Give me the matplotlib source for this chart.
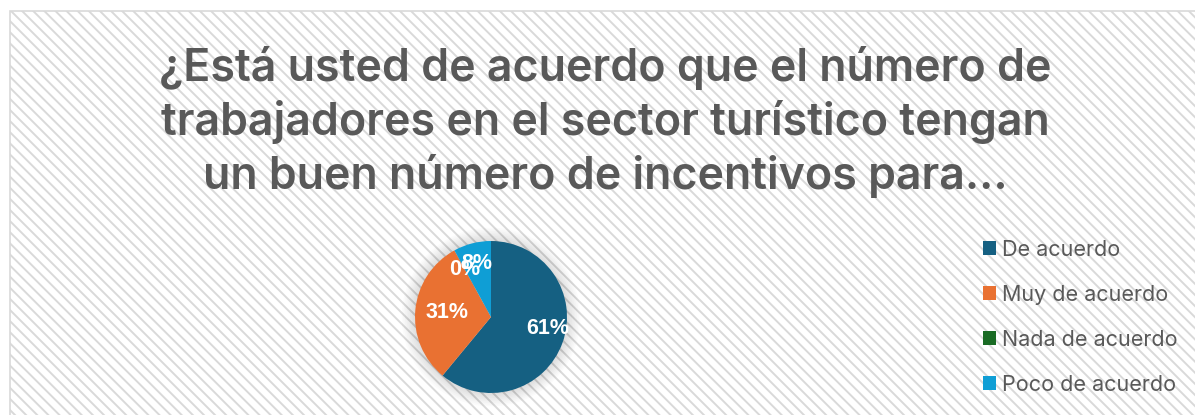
import numpy as np
import matplotlib.pyplot as plt
from matplotlib.patches import Rectangle, Patch, Circle

# Survey answers
categories = ['De acuerdo', 'Muy de acuerdo', 'Nada de acuerdo', 'Poco de acuerdo']
values = [61, 31, 0, 8]
colors = ['#156082', '#E97132', '#196B24', '#0F9ED5']
# radial position of each percentage label (fraction of radius)
label_dist = [0.76, 0.58, 0.72, 0.73]

title = ('¿Está usted de acuerdo que el número de\n'
         'trabajadores en el sector turístico tengan\n'
         'un buen número de incentivos para...')

plt.rcParams['hatch.linewidth'] = 1.4
plt.rcParams['hatch.color'] = '#f0f0f0'

fig = plt.figure(figsize=(11.95, 4.15), dpi=100)
W, H = 1195, 415

# chart area with diagonal stripes
bg = Rectangle((10 / W, -0.05), 1.1, 1 - 11 / H + 0.05, transform=fig.transFigure,
               facecolor='white', edgecolor='#d9d9d9', hatch='\\\\\\', linewidth=1.2, zorder=-5)
fig.patches.append(bg)

fig.text(605 / W, 1 - 122 / H, title, ha='center', va='center', fontsize=32.2,
         color='#595959', fontweight='semibold', family='Inter', linespacing=1.3)

# pie
cx, cy, r = 491, 317, 76
R = r * 1.2
ax = fig.add_axes([(cx - R) / W, (H - cy - R) / H, 2 * R / W, 2 * R / H])
ax.set_zorder(2)
for i in range(8):
    ax.add_patch(Circle((0, 0), 1.0 + 0.022 * (i + 1), color='black', alpha=0.017, lw=0, zorder=0))
wedges, texts, autotexts = ax.pie(values, colors=colors, startangle=90, counterclock=False,
                                  autopct='%1.0f%%', pctdistance=0.72, radius=1,
                                  wedgeprops=dict(linewidth=0))
for w, t, d in zip(wedges, autotexts, label_dist):
    ang = np.deg2rad((w.theta1 + w.theta2) / 2)
    if w.theta2 - w.theta1 > 200:
        ang = np.deg2rad(-11)
    t.set_position((d * np.cos(ang), d * np.sin(ang)))
    t.set_color('white')
    t.set_fontsize(15.5)
    t.set_fontweight('bold')
    t.set_family('Liberation Sans')
ax.set_xlim(-1.2, 1.2)
ax.set_ylim(-1.2, 1.2)
ax.set_aspect('equal')
ax.axis('off')

handles = [Patch(facecolor=c, edgecolor='none') for c in colors]
leg = fig.legend(handles, categories, loc='upper left', bbox_to_anchor=(972 / W, 1 - 229 / H),
                 frameon=False, handlelength=0.62, handleheight=0.62,
                 handletextpad=0.28, labelspacing=1.16, borderpad=0,
                 prop={'family': 'Inter', 'size': 15.5})
for t in leg.get_texts():
    t.set_color('#595959')

fig.savefig('out.png', dpi=100)
